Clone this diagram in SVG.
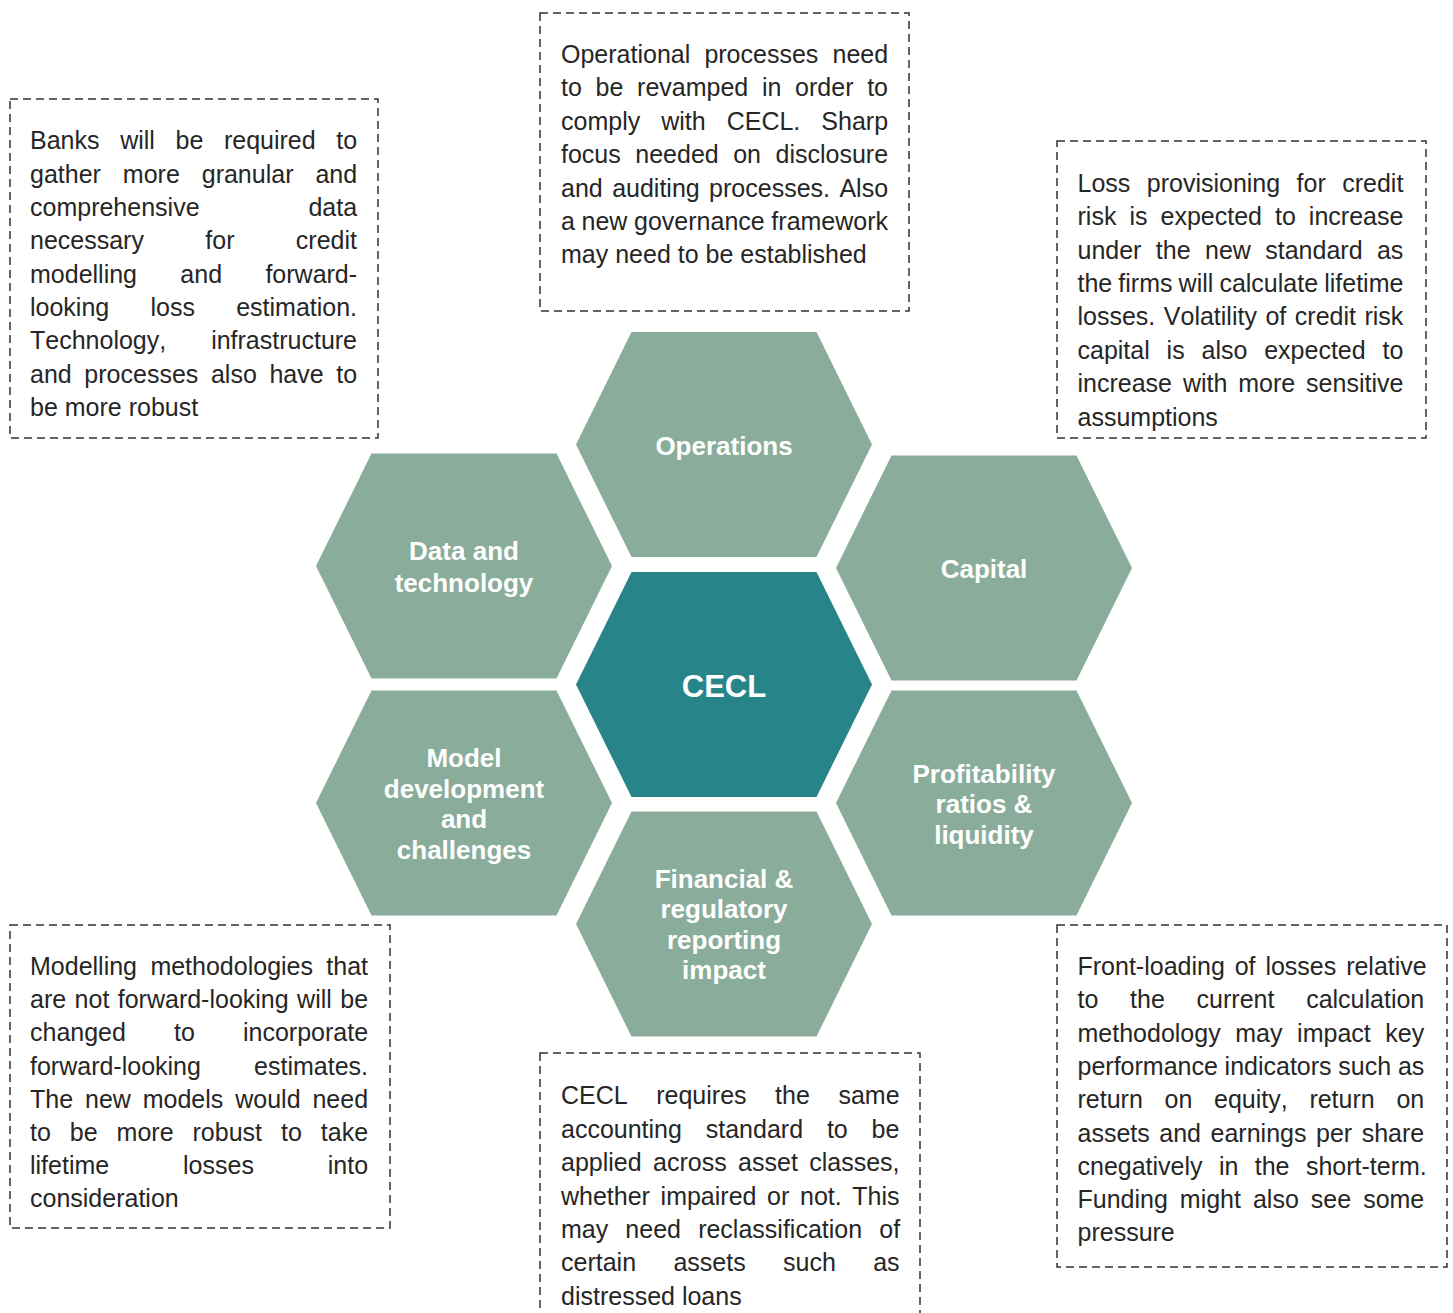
<svg xmlns="http://www.w3.org/2000/svg" xmlns:xlink="http://www.w3.org/1999/xlink" width="1453" height="1313" viewBox="0 0 1453 1313">
<style>
.box{fill:none;stroke:#333;stroke-width:1.5;stroke-dasharray:8 5}
.t{font-family:"Liberation Sans",Arial,sans-serif;font-size:25px;fill:#262626;font-kerning:none}
.hl{font-family:"Liberation Sans",Arial,sans-serif;font-size:26px;font-weight:bold;fill:#ffffff;text-anchor:middle}
.g{fill:#8AAD9B}
.c{fill:#27858A}
</style>
<defs>
<polygon id="hex" points="-148,0 -92.5,-112.5 92.5,-112.5 148,0 92.5,112.5 -92.5,112.5"/>
</defs>
<rect width="1453" height="1313" fill="#ffffff"/>
<g id="connectors"/>

<g id="hex-operations">
<use xlink:href="#hex" href="#hex" class="g" transform="translate(724,444.5)"/>
<text class="hl" x="724" y="454.5">Operations</text>
</g>
<g id="hex-cecl">
<use xlink:href="#hex" href="#hex" class="c" transform="translate(724,684.5)"/>
<text class="hl" x="724" y="696.5" style="font-size:31px">CECL</text>
</g>
<g id="hex-financial">
<use xlink:href="#hex" href="#hex" class="g" transform="translate(724,924)"/>
<text class="hl" x="724" y="887.5">Financial &amp;</text>
<text class="hl" x="724" y="918">regulatory</text>
<text class="hl" x="724" y="948.5">reporting</text>
<text class="hl" x="724" y="979">impact</text>
</g>
<g id="hex-data">
<use xlink:href="#hex" href="#hex" class="g" transform="translate(464,566)"/>
<text class="hl" x="464" y="560">Data and</text>
<text class="hl" x="464" y="592">technology</text>
</g>
<g id="hex-capital">
<use xlink:href="#hex" href="#hex" class="g" transform="translate(984,568)"/>
<text class="hl" x="984" y="578">Capital</text>
</g>
<g id="hex-model">
<use xlink:href="#hex" href="#hex" class="g" transform="translate(464,803)"/>
<text class="hl" x="464" y="767">Model</text>
<text class="hl" x="464" y="797.5">development</text>
<text class="hl" x="464" y="828">and</text>
<text class="hl" x="464" y="859">challenges</text>
</g>
<g id="hex-profitability">
<use xlink:href="#hex" href="#hex" class="g" transform="translate(984,803)"/>
<text class="hl" x="984" y="782.5">Profitability</text>
<text class="hl" x="984" y="813">ratios &amp;</text>
<text class="hl" x="984" y="843.5">liquidity</text>
</g>

<g id="note-data">
<rect class="box" x="10" y="99" width="368" height="339"/>
<text class="t" x="30" y="149.3" style="word-spacing:13.7px">Banks will be required to</text>
<text class="t" x="30" y="182.7" style="word-spacing:15px">gather more granular and</text>
<text class="t" x="30" y="216" style="word-spacing:101.9px">comprehensive data</text>
<text class="t" x="30" y="249.4" style="word-spacing:54.4px">necessary for credit</text>
<text class="t" x="30" y="282.7" style="word-spacing:36.4px">modelling and forward-</text>
<text class="t" x="30" y="316.1" style="word-spacing:34.3px">looking loss estimation.</text>
<text class="t" x="30" y="349.4" style="word-spacing:38px">Technology, infrastructure</text>
<text class="t" x="30" y="382.8" style="word-spacing:5.7px">and processes also have to</text>
<text class="t" x="30" y="416.1">be more robust</text>
</g>

<g id="note-operations">
<rect class="box" x="540" y="13" width="369" height="298"/>
<text class="t" x="561" y="63" style="word-spacing:7.2px">Operational processes need</text>
<text class="t" x="561" y="96.4" style="word-spacing:6.76px">to be revamped in order to</text>
<text class="t" x="561" y="129.8" style="word-spacing:14.07px">comply with CECL. Sharp</text>
<text class="t" x="561" y="163.2" style="word-spacing:7.57px">focus needed on disclosure</text>
<text class="t" x="561" y="196.6" style="word-spacing:2.47px">and auditing processes. Also</text>
<text class="t" x="561" y="230" style="word-spacing:-0.3px">a new governance framework</text>
<text class="t" x="561" y="263.4">may need to be established</text>
</g>

<g id="note-capital">
<rect class="box" x="1057" y="141" width="369" height="297"/>
<text class="t" x="1077.5" y="191.8" style="word-spacing:9.5px">Loss provisioning for credit</text>
<text class="t" x="1077.5" y="225.2" style="word-spacing:6.08px">risk is expected to increase</text>
<text class="t" x="1077.5" y="258.6" style="word-spacing:7.45px">under the new standard as</text>
<text class="t" x="1077.5" y="292" style="word-spacing:-0.85px">the firms will calculate lifetime</text>
<text class="t" x="1077.5" y="325.4" style="word-spacing:1.58px">losses. Volatility of credit risk</text>
<text class="t" x="1077.5" y="358.8" style="word-spacing:9.89px">capital is also expected to</text>
<text class="t" x="1077.5" y="392.2" style="word-spacing:3.94px">increase with more sensitive</text>
<text class="t" x="1077.5" y="425.6">assumptions</text>
</g>

<g id="note-model">
<rect class="box" x="10" y="925" width="380" height="303"/>
<text class="t" x="30" y="975" style="word-spacing:6.43px">Modelling methodologies that</text>
<text class="t" x="30" y="1008.2" style="word-spacing:1.49px">are not forward-looking will be</text>
<text class="t" x="30" y="1041.4" style="word-spacing:41.15px">changed to incorporate</text>
<text class="t" x="30" y="1074.6" style="word-spacing:46.25px">forward-looking estimates.</text>
<text class="t" x="30" y="1107.8" style="word-spacing:4.95px">The new models would need</text>
<text class="t" x="30" y="1141" style="word-spacing:12.02px">to be more robust to take</text>
<text class="t" x="30" y="1174.2" style="word-spacing:66.9px">lifetime losses into</text>
<text class="t" x="30" y="1207.4">consideration</text>
</g>

<g id="note-financial">
<rect class="box" x="540" y="1053" width="380" height="300"/>
<text class="t" x="561" y="1104.3" style="word-spacing:21.6px">CECL requires the same</text>
<text class="t" x="561" y="1137.7" style="word-spacing:16.9px">accounting standard to be</text>
<text class="t" x="561" y="1171.1" style="word-spacing:4.47px">applied across asset classes,</text>
<text class="t" x="561" y="1204.5" style="word-spacing:3.7px">whether impaired or not. This</text>
<text class="t" x="561" y="1237.9" style="word-spacing:10.2px">may need reclassification of</text>
<text class="t" x="561" y="1271.3" style="word-spacing:30.4px">certain assets such as</text>
<text class="t" x="561" y="1304.7">distressed loans</text>
</g>

<g id="note-profitability">
<rect class="box" x="1057" y="925" width="390" height="342"/>
<text class="t" x="1077.5" y="975" style="word-spacing:2.93px">Front-loading of losses relative</text>
<text class="t" x="1077.5" y="1008.3" style="word-spacing:24.8px">to the current calculation</text>
<text class="t" x="1077.5" y="1041.6" style="word-spacing:7.67px">methodology may impact key</text>
<text class="t" x="1077.5" y="1074.9" style="word-spacing:-0.2px">performance indicators such as</text>
<text class="t" x="1077.5" y="1108.2" style="word-spacing:14.76px">return on equity, return on</text>
<text class="t" x="1077.5" y="1141.5" style="word-spacing:2.6px">assets and earnings per share</text>
<text class="t" x="1077.5" y="1174.8" style="word-spacing:9.42px">cnegatively in the short-term.</text>
<text class="t" x="1077.5" y="1208.1" style="word-spacing:5.05px">Funding might also see some</text>
<text class="t" x="1077.5" y="1241.4">pressure</text>
</g>
</svg>
